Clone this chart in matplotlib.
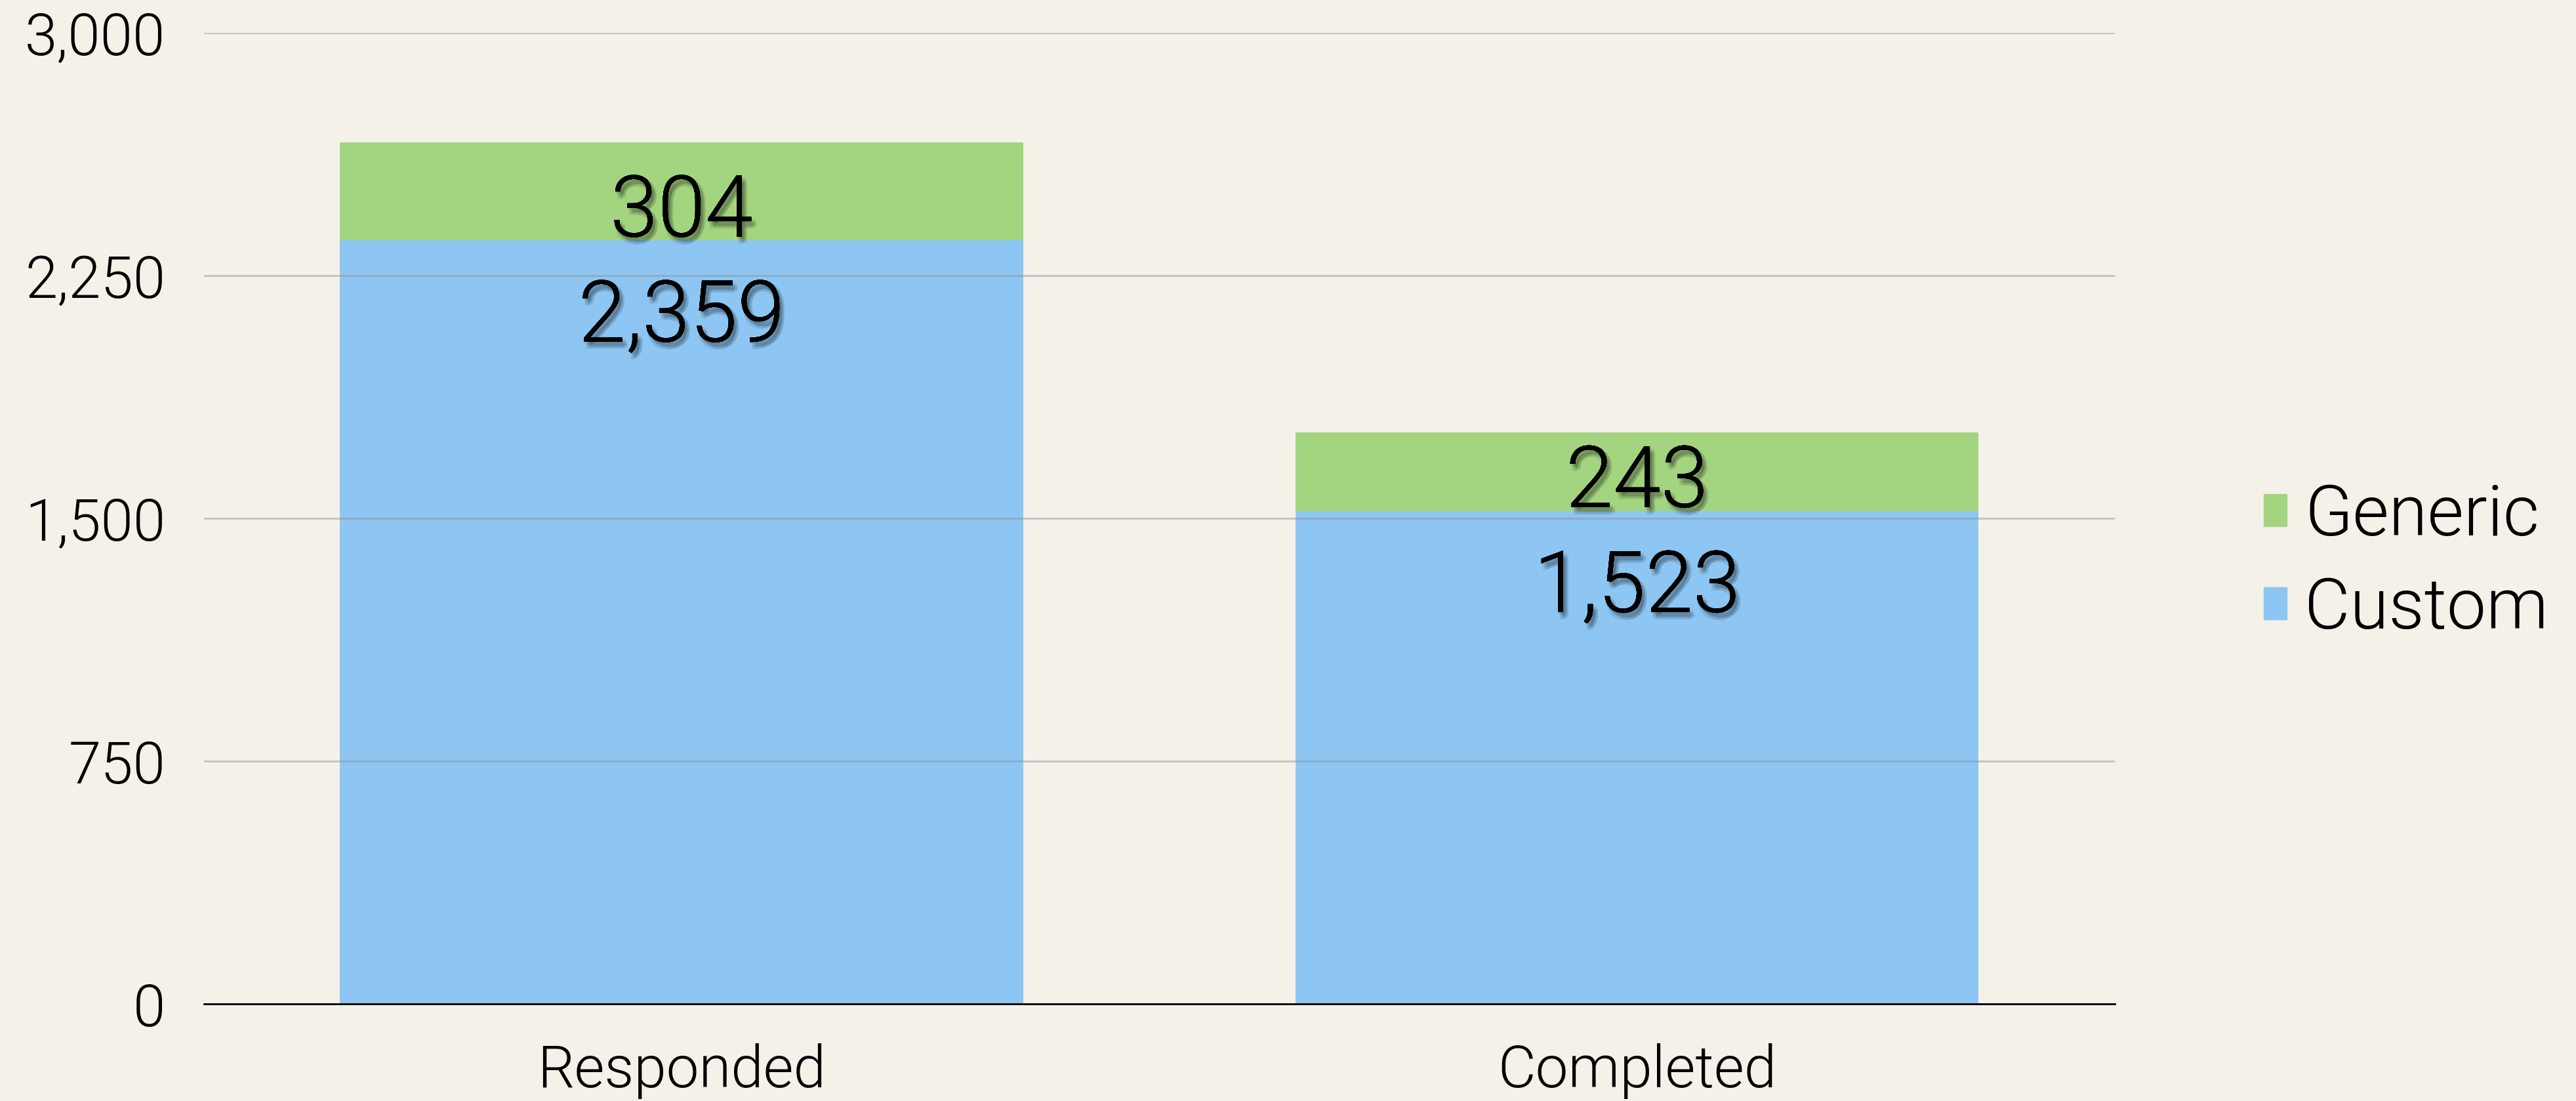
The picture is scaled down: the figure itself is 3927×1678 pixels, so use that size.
import matplotlib.pyplot as plt
import matplotlib.patheffects as pe
from matplotlib.patches import Patch

# data
categories = ['Responded', 'Completed']
custom = [2359, 1523]
generic = [304, 243]
yticks = [0, 750, 1500, 2250, 3000]

bg = '#F4F1E9'
c_custom = '#8DC6F2'
c_generic = '#A3D47F'

plt.rcParams['font.family'] = ['Roboto', 'DejaVu Sans']

fig = plt.figure(figsize=(39.27, 16.78), dpi=100, facecolor=bg)
ax = fig.add_axes([0.0791, 0.0882, 0.7419, 0.8818], facecolor=bg)

x = list(range(len(categories)))
ax.bar(x, custom, width=0.715, color=c_custom, zorder=1)
ax.bar(x, generic, width=0.715, bottom=custom, color=c_generic, zorder=1)

ax.set_xlim(-0.5, 1.5)
ax.set_ylim(0, 3000)
ax.set_yticks(yticks)
ax.set_yticklabels([f'{v:,}' for v in yticks])
ax.set_xticks(x)
ax.set_xticklabels(categories)
ax.tick_params(axis='both', length=0, labelsize=64)
ax.tick_params(axis='y', pad=42)
ax.tick_params(axis='x', pad=43)
for lab in ax.get_xticklabels() + ax.get_yticklabels():
    lab.set_fontweight(300)

ax.grid(axis='y', color='#909090', alpha=0.45, linewidth=2.2, zorder=3)
ax.set_axisbelow(False)
for s in ['top', 'right', 'left']:
    ax.spines[s].set_visible(False)
ax.spines['bottom'].set_color('black')
ax.spines['bottom'].set_linewidth(2)
ax.spines['bottom'].set_zorder(4)

# soft drop shadow: a few faint offset copies
shadow = [pe.withSimplePatchShadow(offset=o, shadow_rgbFace='black', alpha=0.09)
          for o in [(1, -3), (3, -5), (5, -7), (2, -8), (4, -2), (6, -5)]]
shadow.append(pe.Normal())

for xi, c, g in zip(x, custom, generic):
    ax.annotate(f'{g:,}', xy=(xi, c), xytext=(0, 6), textcoords='offset pixels',
                ha='center', va='baseline', fontsize=94, fontweight=300,
                path_effects=shadow, zorder=5)
    ax.annotate(f'{c:,}', xy=(xi, c), xytext=(0, -154), textcoords='offset pixels',
                ha='center', va='baseline', fontsize=94, fontweight=300,
                path_effects=shadow, zorder=5)

handles = [Patch(color=c_generic, label='Generic'), Patch(color=c_custom, label='Custom')]
leg = fig.legend(handles=handles, loc='center left', bbox_to_anchor=(0.8788, 0.489),
                 frameon=False, fontsize=77, handlelength=0.33, handleheight=0.33,
                 handletextpad=0.25, labelspacing=0.37, borderpad=0, borderaxespad=0)
for t in leg.get_texts():
    t.set_fontweight(300)

plt.savefig('out.png', dpi=100, facecolor=bg)
